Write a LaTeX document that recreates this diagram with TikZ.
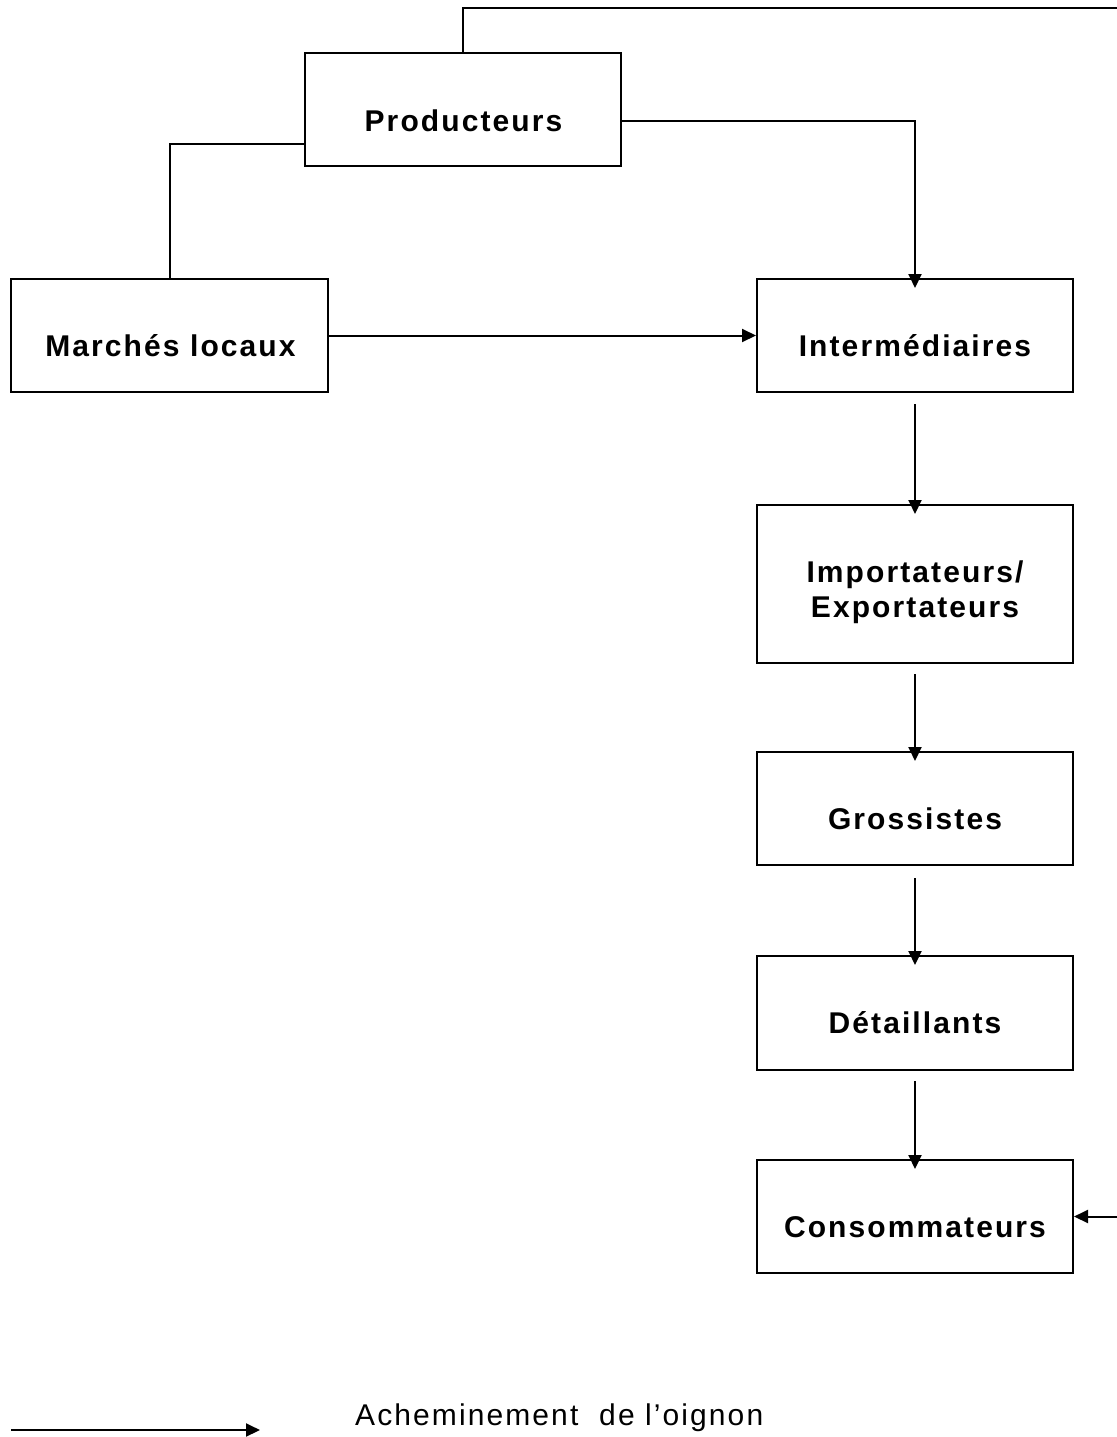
\documentclass[tikz,border=0pt]{standalone}
\usepackage{fontspec}
\setmainfont{Liberation Sans}[LetterSpace=7]
\usetikzlibrary{arrows.meta,calc}
\begin{document}
\begin{tikzpicture}[x=1pt,y=-1pt,
  box/.style={draw,line width=2pt,minimum width=316pt,inner sep=0pt},
  lbl/.style={anchor=base,inner sep=0pt,font=\fontsize{30}{36}\selectfont\bfseries},
  conn/.style={line width=2pt},
  arr/.style={line width=2pt,-{Triangle[length=14pt,width=13pt]}}]
\useasboundingbox (0,0) rectangle (1116,1437);
% boxes
\node[box,minimum height=113pt] (prod) at (463,109.5) {};
\node[box,minimum height=113pt,minimum width=317pt] (marche) at (169.5,335.5) {};
\node[box,minimum height=113pt] (inter) at (915,335.5) {};
\node[box,minimum height=158pt] (import) at (915,584) {};
\node[box,minimum height=113pt] (gross) at (915,808.5) {};
\node[box,minimum height=114pt] (detail) at (915,1013) {};
\node[box,minimum height=113pt] (cons) at (915,1216.5) {};
% labels
\node[lbl] (prodt) at (463.5,131) {Producteurs};
\node[lbl] (marchet) at (170.5,356) {Marchés locaux};
\node[lbl] (intert) at (915,356) {Intermédiaires};
\node[lbl] (importt) at (915,582) {Importateurs/};
\node[lbl] (exportt) at (915,617) {Exportateurs};
\node[lbl] (grosst) at (915,829) {Grossistes};
\node[lbl] (detailt) at (915,1033.5) {Détaillants};
\node[lbl] (const) at (915,1237) {Consommateurs};
% connectors
\coordinate (tl) at (463,8);
\coordinate (tr) at (1122,8);
\coordinate (br) at (1122,1216.5);
\draw[arr] (prod.north) -- (tl) -- (tr) -- (br) -- (cons.east);
\draw[arr] ($(prod.east)+(0,11.5)$) -| ($(inter.north)+(0,10)$);
\draw[conn] ($(prod.west)+(0,34.5)$) -| (marche.north);
\draw[arr] (marche.east) -- (inter.west);
\draw[arr] ($(inter.south)+(0,11)$) -- ($(import.north)+(0,10)$);
\draw[arr] ($(import.south)+(0,10)$) -- ($(gross.north)+(0,10)$);
\draw[arr] ($(gross.south)+(0,12)$) -- ($(detail.north)+(0,10)$);
\draw[arr] ($(detail.south)+(0,10)$) -- ($(cons.north)+(0,10)$);
% legend
\coordinate (la) at (11,1430);
\coordinate (lb) at (260,1430);
\draw[arr] (la) -- (lb);
\node[anchor=base west,inner sep=0pt,font=\fontsize{30}{36}\selectfont] (legt) at (355,1425) {Acheminement\ \ de l’oignon};
\end{tikzpicture}
\end{document}
